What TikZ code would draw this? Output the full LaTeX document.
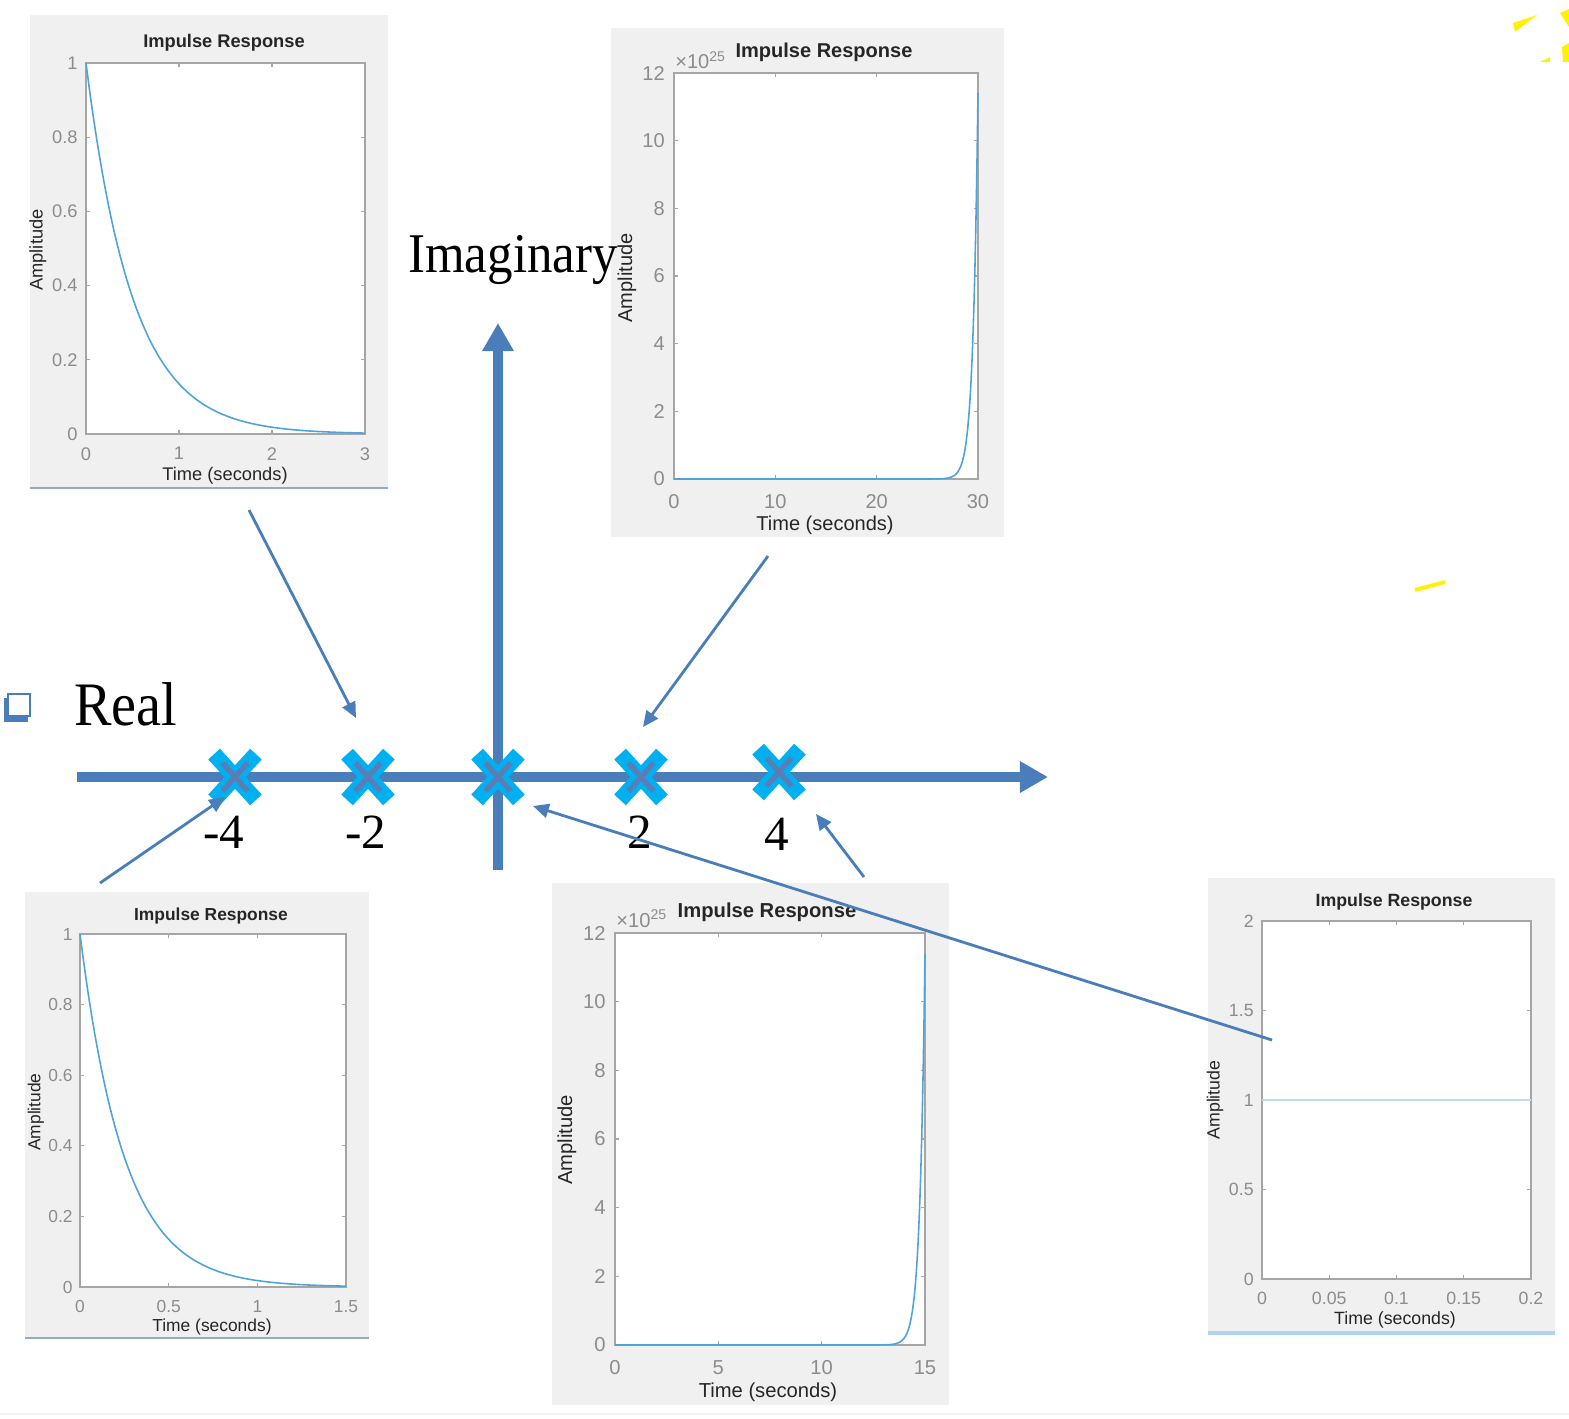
\documentclass[tikz,border=0pt]{standalone}
\usepackage{fontspec}
\setmainfont{Liberation Serif}
\newfontfamily\plotfont{Liberation Sans}
\definecolor{axblue}{HTML}{4A7EBB}
\definecolor{polecyan}{HTML}{00B0F0}
\definecolor{polemid}{HTML}{5B7DB5}
\definecolor{plotbg}{HTML}{F0F0F0}
\definecolor{boxgrey}{HTML}{A6A6A6}
\definecolor{tickgrey}{HTML}{8C8C8C}
\definecolor{lbldark}{HTML}{262626}
\definecolor{curveblue}{HTML}{4FA3DB}
\definecolor{rimblue}{HTML}{8FAACC}
\usetikzlibrary{arrows.meta, shapes.misc, positioning}

\begin{document}
\begin{tikzpicture}[x=0.02cm, y=-0.02cm,
        axisline/.style={draw=axblue, line width=5.6pt},
        conn/.style={draw=axblue, line width=1.6pt, -{Triangle[length=9pt,width=8pt]}},
        poleout/.style={cross out, draw=polecyan, line width=9pt,
                        minimum width=0.52cm, minimum height=0.6cm, inner sep=0pt},
        polein/.style={cross out, draw=polemid, line width=3pt,
                       minimum width=0.4cm, minimum height=0.46cm, inner sep=0pt},
        biglbl/.style={font=\fontsize{#1}{#1}\selectfont, inner sep=0pt},
        ttl/.style={font=\plotfont\bfseries\fontsize{#1}{#1}\selectfont, text=lbldark, inner sep=0pt},
        axlbl/.style={font=\plotfont\fontsize{#1}{#1}\selectfont, text=lbldark, inner sep=0pt},
        ticklbl/.style={font=\plotfont\fontsize{#1}{#1}\selectfont, text=tickgrey, inner sep=0pt},
        axbox/.style={draw=boxgrey, fill=white, line width=0.8pt},
        tk/.style={draw=boxgrey, line width=0.6pt},
        curve/.style={draw=curveblue, line width=0.9pt},
        panelbg/.style={fill=plotbg}
      ]
        \useasboundingbox (0,0) rectangle (1569,1418);
        \draw[plotbg!80!black!20, line width=1.6pt] (0,1414) -- (1569,1414);

        % pole -2 : e^{-2t}
        \fill[panelbg] (30,15) rectangle (388,488);
        \draw[rimblue, line width=0.8pt] (30,488) -- (388,488);
        \draw[axbox] (86,63) rectangle (365,434);
        \foreach \k/\v in {0/0,1/0.2,2/0.4,3/0.6,4/0.8,5/1} {
          \draw[tk] (86,434-\k*74.2) -- ++(4,0) (365,434-\k*74.2) -- ++(-4,0);
          \node[ticklbl=10.4, anchor=east] (a1y\k) at (78,434-\k*74.2) {\v};
        }
        \foreach \k in {0,...,3} {
          \draw[tk] (86+\k*93,434) -- ++(0,-4) (86+\k*93,63) -- ++(0,4);
          \node[ticklbl=10.4, anchor=north] (a1x\k) at (86+\k*93,447) {\k};
        }
        \draw[curve] plot[domain=0:3, samples=90] ({86+\x*93},{434-371*exp(-2*\x)});
        \node[ttl=10.4] (t1) at (224,43) {Impulse Response};
        \node[axlbl=10.4] (x1) at (225,476) {Time (seconds)};
        \node[axlbl=10.4, rotate=90] (y1) at (38,250) {Amplitude};

        % pole 2 : e^{2t}
        \fill[panelbg] (611,28) rectangle (1004,537);
        \draw[axbox] (674,73) rectangle (978,479);
        \foreach \k [evaluate=\k as \v using int(2*\k)] in {0,...,6} {
          \draw[tk] (674,479-\k*67.667) -- ++(4,0) (978,479-\k*67.667) -- ++(-4,0);
          \node[ticklbl=11.4, anchor=east] (a2y\k) at (665,479-\k*67.667) {\v};
        }
        \foreach \k [evaluate=\k as \v using int(10*\k)] in {0,...,3} {
          \draw[tk] (674+\k*101.33,479) -- ++(0,-4) (674+\k*101.33,73) -- ++(0,4);
          \node[ticklbl=11.4, anchor=north] (a2x\k) at (674+\k*101.33,494) {\v};
        }
        \node[ticklbl=11.4, anchor=base west] (e2) at (675,68) {×10\textsuperscript{25}};
        \draw[curve] (674,479) -- (917,479)
          -- plot[domain=24:30, samples=80] ({674+\x*10.133},{479-386.4*exp(2*\x-60)});
        \node[ttl=11.4] (t2) at (824,52) {Impulse Response};
        \node[axlbl=11.4] (x2) at (825,525) {Time (seconds)};
        \node[axlbl=11.4, rotate=90] (y2) at (627,278) {Amplitude};

        % pole -4 : e^{-4t}
        \fill[panelbg] (25,892) rectangle (369,1338);
        \draw[rimblue, line width=0.8pt] (25,1338) -- (369,1338);
        \draw[axbox] (80,934) rectangle (346,1287);
        \foreach \k/\v in {0/0,1/0.2,2/0.4,3/0.6,4/0.8,5/1} {
          \draw[tk] (80,1287-\k*70.6) -- ++(4,0) (346,1287-\k*70.6) -- ++(-4,0);
          \node[ticklbl=9.9, anchor=east] (a3y\k) at (73,1287-\k*70.6) {\v};
        }
        \foreach \k/\v in {0/0,1/0.5,2/1,3/1.5} {
          \draw[tk] (80+\k*88.67,1287) -- ++(0,-4) (80+\k*88.67,934) -- ++(0,4);
          \node[ticklbl=9.9, anchor=north] (a3x\k) at (80+\k*88.67,1300) {\v};
        }
        \draw[curve] plot[domain=0:1.5, samples=90] ({80+\x*177.33},{1287-353*exp(-4*\x)});
        \node[ttl=9.9] (t3) at (211,916) {Impulse Response};
        \node[axlbl=9.9] (x3) at (212,1327) {Time (seconds)};
        \node[axlbl=9.9, rotate=90] (y3) at (36,1112) {Amplitude};

        % pole 4 : e^{4t}
        \fill[panelbg] (552,883) rectangle (949,1405);
        \draw[axbox] (615,933) rectangle (925,1345);
        \foreach \k [evaluate=\k as \v using int(2*\k)] in {0,...,6} {
          \draw[tk] (615,1345-\k*68.667) -- ++(4,0) (925,1345-\k*68.667) -- ++(-4,0);
          \node[ticklbl=11.5, anchor=east] (a4y\k) at (606,1345-\k*68.667) {\v};
        }
        \foreach \k [evaluate=\k as \v using int(5*\k)] in {0,...,3} {
          \draw[tk] (615+\k*103.33,1345) -- ++(0,-4) (615+\k*103.33,933) -- ++(0,4);
          \node[ticklbl=11.5, anchor=north] (a4x\k) at (615+\k*103.33,1360) {\v};
        }
        \node[ticklbl=11.5, anchor=base west] (e4) at (616,927) {×10\textsuperscript{25}};
        \draw[curve] (615,1345) -- (863,1345)
          -- plot[domain=12:15, samples=80] ({615+\x*20.667},{1345-392.1*exp(4*\x-60)});
        \node[ttl=11.5] (t4) at (767,912) {Impulse Response};
        \node[axlbl=11.5] (x4) at (768,1392) {Time (seconds)};
        \node[axlbl=11.5, rotate=90] (y4) at (567,1140) {Amplitude};

        % pole 0 : step of height 1
        \fill[panelbg] (1208,878) rectangle (1555,1333);
        \draw[curveblue!45, line width=2.2pt] (1208,1333) -- (1555,1333);
        \draw[axbox] (1262,921) rectangle (1531,1279);
        \foreach \k/\v in {0/0,1/0.5,2/1,3/1.5,4/2} {
          \draw[tk] (1262,1279-\k*89.5) -- ++(4,0) (1531,1279-\k*89.5) -- ++(-4,0);
          \node[ticklbl=10.1, anchor=east] (a5y\k) at (1254,1279-\k*89.5) {\v};
        }
        \foreach \k/\v in {0/0,1/0.05,2/0.1,3/0.15,4/0.2} {
          \draw[tk] (1262+\k*67.25,1279) -- ++(0,-4) (1262+\k*67.25,921) -- ++(0,4);
          \node[ticklbl=10.1, anchor=north] (a5x\k) at (1262+\k*67.25,1292) {\v};
        }
        \draw[curveblue!40, line width=0.8pt] (1262,1100) -- (1531,1100);
        \node[ttl=10.1] (t5) at (1394,902) {Impulse Response};
        \node[axlbl=10.1] (x5) at (1395,1320) {Time (seconds)};
        \node[axlbl=10.1, rotate=90] (y5) at (1215,1100) {Amplitude};

        % s-plane axes
        \coordinate (re0) at (77,777);
        \coordinate (re1) at (1048,777);
        \coordinate (im0) at (498,870);
        \coordinate (im1) at (498,323);
        \draw[axisline, -{Triangle[length=16pt,width=17pt]}] (re0) -- (re1);
        \draw[axisline, -{Triangle[length=16pt,width=17pt]}] (im0) -- (im1);

        \foreach \n/\px/\py in {pm4/235/777, pm2/368/777, p0/498/777, pp2/641/777, pp4/779/772} {
          \node[poleout] (\n) at (\px,\py) {};
          \node[polein] (\n-in) at (\n) {};
        }

        \node[biglbl=28, anchor=base] (lm4) at (224,848) {-4};
        \node[biglbl=28, anchor=base] (lm2) at (366,848) {-2};
        \node[biglbl=28, anchor=base] (lp2) at (640,848) {2};
        \node[biglbl=28, anchor=base] (lp4) at (777,850) {4};

        \node[biglbl=32, anchor=base west, yscale=1.1] (real) at (74,725) {Real};
        \node[biglbl=29, anchor=base west, yscale=1.1] (imag) at (408,272) {Imaginary};
        \node[fill=axblue, minimum size=0.48cm, inner sep=0pt] (bulsh) at (16,710) {};
        \node[draw=axblue, fill=white, line width=1.6pt, minimum size=0.44cm, inner sep=0pt] (bul) at (19,705) {};

        % yellow scraps at the right edge
        \fill[yellow] (1513,23) -- (1537,15) -- (1515,32) -- cycle;
        \fill[yellow] (1560,13) -- (1569,9) -- (1569,27) -- cycle;
        \fill[yellow] (1562,47) -- (1569,43) -- (1569,62) -- (1563,62) -- cycle;
        \fill[yellow] (1540,62) -- (1550,57) -- (1550,62) -- cycle;
        \draw[yellow, line width=2.2pt] (1415,590) -- (1445,582);

        % pointers from plots to poles
        \coordinate (src1) at (249,510);   \coordinate (tip1) at (356,718);
        \coordinate (src2) at (768,556);   \coordinate (tip2) at (643,727);
        \coordinate (src3) at (100,883);   \coordinate (tip3) at (225,797);
        \coordinate (src4) at (864,877);   \coordinate (tip4) at (816,814);
        \coordinate (src5) at (1272,1040); \coordinate (tip5) at (533,806);
        \draw[conn] (src1) -- (tip1);
        \draw[conn] (src2) -- (tip2);
        \draw[conn] (src3) -- (tip3);
        \draw[conn] (src4) -- (tip4);
        \draw[conn] (src5) -- (tip5);
      \end{tikzpicture}
\end{document}
